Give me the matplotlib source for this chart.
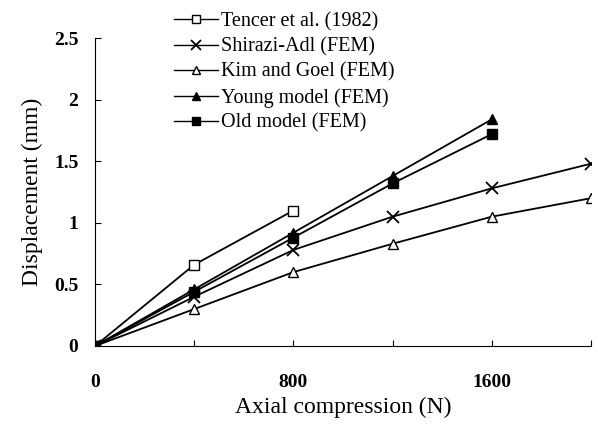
import matplotlib.pyplot as plt

plt.rcParams['font.family'] = ['Liberation Serif', 'DejaVu Serif']

# load levels (N)
x_tencer = [0, 400, 800]
x_full = [0, 400, 800, 1200, 1600, 2000]
x_model = [0, 400, 800, 1200, 1600]

tencer = [0, 0.66, 1.10]
shirazi = [0, 0.40, 0.78, 1.05, 1.28, 1.48]
kim = [0, 0.30, 0.60, 0.83, 1.05, 1.20]
young = [0, 0.46, 0.92, 1.38, 1.84]
old = [0, 0.44, 0.88, 1.32, 1.72]

fig = plt.figure(figsize=(5.98, 4.24), dpi=100)
ax = fig.add_axes([0.159, 0.184, 0.829, 0.726])

lw = 1.3
ax.plot(x_tencer, tencer, '-s', color='black', mfc='white', ms=7, lw=lw, label='Tencer et al. (1982)')
ax.plot(x_full, shirazi, '-x', color='black', ms=8, mew=1.3, lw=lw, label='Shirazi-Adl (FEM)')
ax.plot(x_full, kim, '-^', color='black', mfc='white', ms=7, lw=lw, label='Kim and Goel (FEM)')
ax.plot(x_model, young, '-^', color='black', ms=7.5, lw=lw, label='Young model (FEM)')
ax.plot(x_model, old, '-s', color='black', ms=6.5, lw=lw, label='Old model (FEM)')

ax.set_xlim(0, 2000)
ax.set_ylim(0, 2.5)
ax.set_xticks([0, 400, 800, 1200, 1600, 2000])
ax.set_xticklabels(['0', '', '800', '', '1600', ''])
ax.set_yticks([0, 0.5, 1, 1.5, 2, 2.5])
ax.set_yticklabels(['0', '0.5', '1', '1.5', '2', '2.5'])
ax.tick_params(axis='both', direction='in', length=4, labelsize=14, width=0.8)
ax.tick_params(axis='x', pad=20)
ax.tick_params(axis='y', pad=12)
for t in ax.get_xticklabels() + ax.get_yticklabels():
    t.set_fontweight('bold')

ax.spines['top'].set_visible(False)
ax.spines['right'].set_visible(False)
ax.spines['left'].set_linestyle((0, (4, 1)))
ax.spines['bottom'].set_linestyle((0, (4, 1)))
ax.spines['left'].set_linewidth(0.8)
ax.spines['bottom'].set_linewidth(0.8)

ax.set_xlabel('Axial compression (N)', fontsize=17, labelpad=4)
ax.set_ylabel('Displacement (mm)', fontsize=17, labelpad=8)

leg = fig.legend(loc='upper left', bbox_to_anchor=(0.27, 1.0), frameon=False,
                 fontsize=14.5, handlelength=2.2, handletextpad=0.15, labelspacing=0.3,
                 borderaxespad=0.2, markerscale=0.85)
for h in leg.legend_handles:
    h.set_linewidth(1.0)

fig.savefig('out.png', dpi=100)
